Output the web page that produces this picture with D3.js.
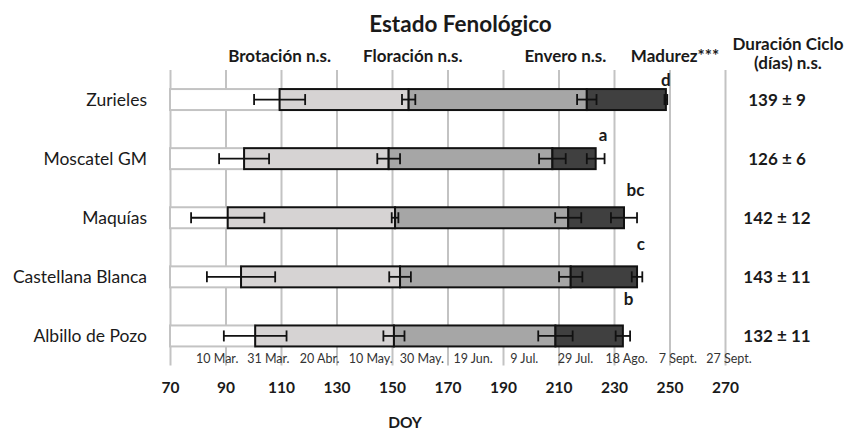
<!DOCTYPE html>
<html>
<head>
<meta charset="utf-8">
<script src="https://cdn.jsdelivr.net/npm/d3@7"></script>
<style>
  html, body { margin: 0; padding: 0; background: #fff; }
  svg { display: block; font-family: Lato, "Open Sans", sans-serif; }
</style>
</head>
<body>
<svg id="chart" width="845" height="430"></svg>
<script>
// Cultivars, top to bottom
const categories = ["Zurieles", "Moscatel GM", "Maquías", "Castellana Blanca", "Albillo de Pozo"];

// Day of year (DOY) at the start of each phenological stage, with its error
const brotacion    = [109.5, 96.7, 90.8, 95.6, 100.7];
const brotacionErr = [9.2, 9.0, 13.2, 12.3, 11.3];
const floracion    = [156.0, 148.8, 151.1, 152.9, 150.7];
const floracionErr = [2.4, 4.1, 1.2, 3.9, 3.8];
const envero       = [220.2, 207.8, 213.5, 214.4, 208.9];
const enveroErr    = [3.5, 4.8, 4.7, 4.2, 6.2];
const madurez      = [248.7, 223.4, 233.6, 238.3, 233.2];
const madurezErr   = [0.5, 3.2, 4.7, 1.9, 2.6];

// Significance letters for ripening date
const madurezLetters = ["d", "a", "bc", "c", "b"];

// Cycle length (days): mean and deviation
const cicloMedia = [139, 126, 142, 143, 132];
const cicloDesv  = [9, 6, 12, 11, 11];

// Axis labels
const doyTicks   = [70, 90, 110, 130, 150, 170, 190, 210, 230, 250, 270];
const dateLabels = ["10 Mar.", "31 Mar.", "20 Abr.", "10 May.", "30 May.", "19 Jun.",
                    "9 Jul.", "29 Jul.", "18 Ago.", "7 Sept.", "27 Sept."];
const phaseHeaders = ["Brotación n.s.", "Floración n.s.", "Envero n.s.", "Madurez***"];

const svg = d3.select("#chart");
const ink = "#1a1a1a";

const x = d3.scaleLinear().domain([70, 270]).range([170, 725]);
const y = d3.scaleBand().domain(categories).range([70, 365.5])
  .paddingInner(0.645).paddingOuter(0.3225);
const yLetter = d3.scalePoint().domain(categories).range([86, 305]);
const xDate = d3.scalePoint().domain(dateLabels).range([216.7, 728.5]);

// Title
svg.append("text")
  .attr("x", 460.5).attr("y", 32)
  .attr("text-anchor", "middle")
  .attr("font-size", 22.5).attr("font-weight", 700).attr("fill", ink)
  .text("Estado Fenológico");

// Vertical grid + DOY tick labels
const gridAxis = svg.append("g")
  .attr("transform", "translate(0,365.5)")
  .call(d3.axisBottom(x).tickValues(doyTicks).tickSize(-295.5).tickPadding(16));
gridAxis.select(".domain").remove();
gridAxis.selectAll(".tick line").attr("stroke", "#c3c3c3").attr("stroke-width", 2);
gridAxis.selectAll(".tick text")
  .attr("font-family", "Lato, sans-serif")
  .attr("font-size", 15.5).attr("font-weight", 700).attr("fill", ink);

// Calendar dates
const dateAxis = svg.append("g")
  .attr("transform", "translate(0,345)")
  .call(d3.axisBottom(xDate).tickSize(0).tickPadding(9));
dateAxis.select(".domain").remove();
dateAxis.selectAll(".tick text")
  .attr("font-family", "Lato, sans-serif")
  .attr("font-size", 12.5).attr("fill", "#333");

// Axis title
svg.append("text")
  .attr("x", 405).attr("y", 428)
  .attr("text-anchor", "middle")
  .attr("font-size", 15.5).attr("font-weight", 700).attr("fill", ink)
  .text("DOY");

// Stage headers
const headerAnchors = [109.5, 157.5, 212.5, 252];
svg.append("g").selectAll("text")
  .data(phaseHeaders)
  .join("text")
  .attr("x", (d, i) => x(headerAnchors[i]))
  .attr("y", 62)
  .attr("text-anchor", "middle")
  .attr("font-size", 17).attr("font-weight", 700).attr("fill", ink)
  .text(d => d);

// Stacked stage bars
const rows = categories.map((c, i) => ({
  cat: c,
  stages: [
    { from: 70, to: brotacion[i], fill: "#ffffff", stroke: "#c3c3c3" },
    { from: brotacion[i], to: floracion[i], fill: "#d6d3d3", stroke: "#111" },
    { from: floracion[i], to: envero[i], fill: "#a6a6a6", stroke: "#111" },
    { from: envero[i], to: madurez[i], fill: "#404040", stroke: "#111" }
  ],
  errs: [
    [brotacion[i], brotacionErr[i]],
    [floracion[i], floracionErr[i]],
    [envero[i], enveroErr[i]],
    [madurez[i], madurezErr[i]]
  ]
}));

const rowG = svg.append("g").selectAll("g")
  .data(rows)
  .join("g")
  .attr("transform", d => `translate(0,${y(d.cat)})`);

rowG.selectAll("rect")
  .data(d => d.stages)
  .join("rect")
  .attr("x", d => x(d.from))
  .attr("width", d => x(d.to) - x(d.from))
  .attr("y", 0)
  .attr("height", y.bandwidth())
  .attr("fill", d => d.fill)
  .attr("stroke", d => d.stroke)
  .attr("stroke-width", 2);

// Error bars
const cap = 5.5;
const mid = y.bandwidth() / 2;
const eb = rowG.selectAll("g.err")
  .data(d => d.errs)
  .join("g").attr("class", "err")
  .attr("stroke", "#111").attr("stroke-width", 1.8);
eb.append("line")
  .attr("x1", d => x(d[0] - d[1])).attr("x2", d => x(d[0] + d[1]))
  .attr("y1", mid).attr("y2", mid);
eb.append("line")
  .attr("x1", d => x(d[0] - d[1])).attr("x2", d => x(d[0] - d[1]))
  .attr("y1", mid - cap).attr("y2", mid + cap);
eb.append("line")
  .attr("x1", d => x(d[0] + d[1])).attr("x2", d => x(d[0] + d[1]))
  .attr("y1", mid - cap).attr("y2", mid + cap);

// Significance letters
svg.append("g").selectAll("text")
  .data(categories)
  .join("text")
  .attr("x", (d, i) => x(madurez[i] + madurezErr[i]) - 1.5)
  .attr("y", d => yLetter(d))
  .attr("text-anchor", "middle")
  .attr("font-size", 17).attr("font-weight", 700).attr("fill", ink)
  .text((d, i) => madurezLetters[i]);

// Cultivar names
svg.append("g").selectAll("text")
  .data(categories)
  .join("text")
  .attr("x", 147)
  .attr("y", d => y(d) + mid)
  .attr("dy", "0.36em")
  .attr("text-anchor", "end")
  .attr("font-size", 17.5).attr("fill", ink)
  .text(d => d);

// Cycle length column
svg.append("text")
  .attr("x", 788).attr("y", 50)
  .attr("text-anchor", "middle")
  .attr("font-size", 17).attr("font-weight", 700).attr("fill", ink)
  .text("Duración Ciclo");
svg.append("text")
  .attr("x", 788).attr("y", 69)
  .attr("text-anchor", "middle")
  .attr("font-size", 17).attr("font-weight", 700).attr("fill", ink)
  .text("(días) n.s.");
svg.append("g").selectAll("text")
  .data(categories)
  .join("text")
  .attr("x", 777)
  .attr("y", d => y(d) + mid)
  .attr("dy", "0.36em")
  .attr("text-anchor", "middle")
  .attr("font-size", 17).attr("font-weight", 700).attr("fill", ink)
  .text((d, i) => `${cicloMedia[i]} ± ${cicloDesv[i]}`);
</script>
</body>
</html>
